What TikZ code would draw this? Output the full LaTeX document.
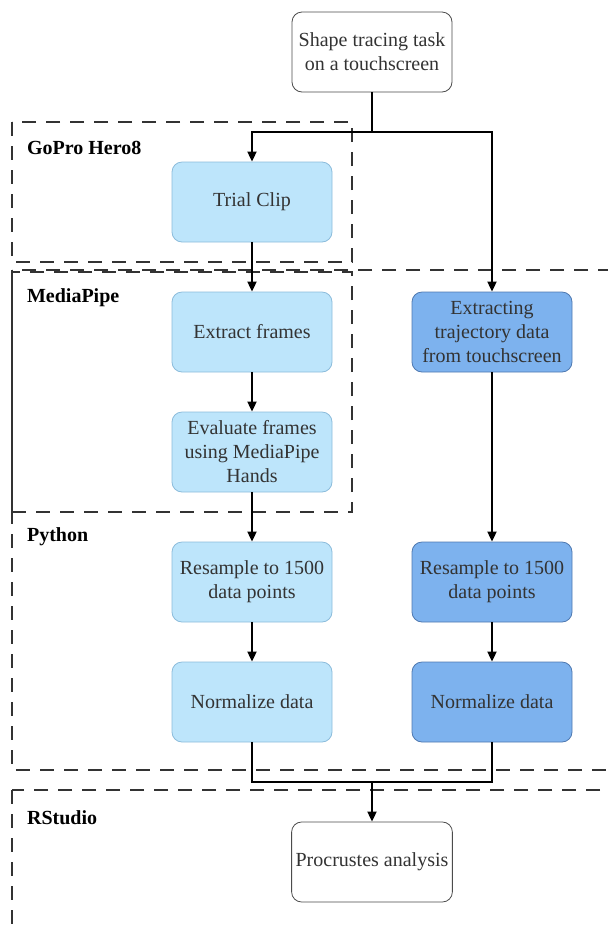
\documentclass[tikz,border=0pt]{standalone}
\usepackage{fontspec}
\setmainfont{Liberation Serif}
\usetikzlibrary{arrows.meta}

\definecolor{lightfill}{HTML}{BDE5FB}
\definecolor{lightdraw}{HTML}{8CBCDB}
\definecolor{darkfill}{HTML}{7DB2EE}
\definecolor{darkdraw}{HTML}{4F79B0}
\definecolor{textgray}{HTML}{333333}

\begin{document}
\begin{tikzpicture}[
    x=0.5pt, y=-0.5pt,
    stepbox/.style={rectangle, rounded corners=5pt, minimum width=80pt,
      minimum height=40pt, align=center, text=textgray,
      font=\rmfamily\fontsize{10}{12}\selectfont, inner sep=2pt},
    plainbox/.style={stepbox, draw=black!70, fill=white},
    lightbox/.style={stepbox, draw=lightdraw, fill=lightfill},
    darkbox/.style={stepbox, draw=darkdraw, fill=darkfill},
    region/.style={draw=black!80, line width=1.2pt, dash pattern=on 7pt off 5pt},
    regionlabel/.style={anchor=west, font=\rmfamily\fontsize{10}{12}\selectfont\bfseries},
    flow/.style={draw=black, line width=0.9pt},
    arrow/.style={flow, -{Triangle[length=5pt,width=4.5pt]}}
  ]
    \useasboundingbox (0,0) rectangle (607,928);

    % tool regions
    \draw[region] (12,122) rectangle (352,262);
    \draw[region] (12,272) rectangle (352,512);
    \draw[region] (12,270) rectangle (640,770);
    \draw[region] (12,790) rectangle (640,960);
    \draw[draw=black!80, line width=1.2pt] (12,272) -- (12,512);
    \node[regionlabel] (gopro) at (20,148) {GoPro Hero8};
    \node[regionlabel] (mediapipe) at (20,298) {MediaPipe};
    \node[regionlabel] (python) at (20,537) {Python};
    \node[regionlabel] (rstudio) at (20,818) {RStudio};

    % steps
    \node[plainbox] (task) at (372,52) {Shape tracing task\\on a touchscreen};
    \node[lightbox] (clip) at (252,202) {Trial Clip};
    \node[lightbox] (extract) at (252,332) {Extract frames};
    \node[lightbox] (evaluate) at (252,452) {Evaluate frames\\using MediaPipe\\Hands};
    \node[lightbox] (resampleL) at (252,582) {Resample to 1500\\data points};
    \node[lightbox] (normL) at (252,702) {Normalize data};
    \node[darkbox] (traj) at (492,332) {Extracting\\trajectory data\\from touchscreen};
    \node[darkbox] (resampleR) at (492,582) {Resample to 1500\\data points};
    \node[darkbox] (normR) at (492,702) {Normalize data};
    \node[plainbox] (procrustes) at (372,862) {Procrustes analysis};

    % connectors
    \coordinate (split) at (372,132);
    \coordinate (join) at (372,782);
    \draw[flow] (task.south) -- (split);
    \draw[arrow] (split) -| (clip.north);
    \draw[arrow] (split) -| (traj.north);
    \draw[arrow] (clip) -- (extract);
    \draw[arrow] (extract) -- (evaluate);
    \draw[arrow] (evaluate) -- (resampleL);
    \draw[arrow] (resampleL) -- (normL);
    \draw[arrow] (traj) -- (resampleR);
    \draw[arrow] (resampleR) -- (normR);
    \draw[flow] (normL.south) |- (join);
    \draw[flow] (normR.south) |- (join);
    \draw[arrow] (join) -- (procrustes.north);
  \end{tikzpicture}
\end{document}
